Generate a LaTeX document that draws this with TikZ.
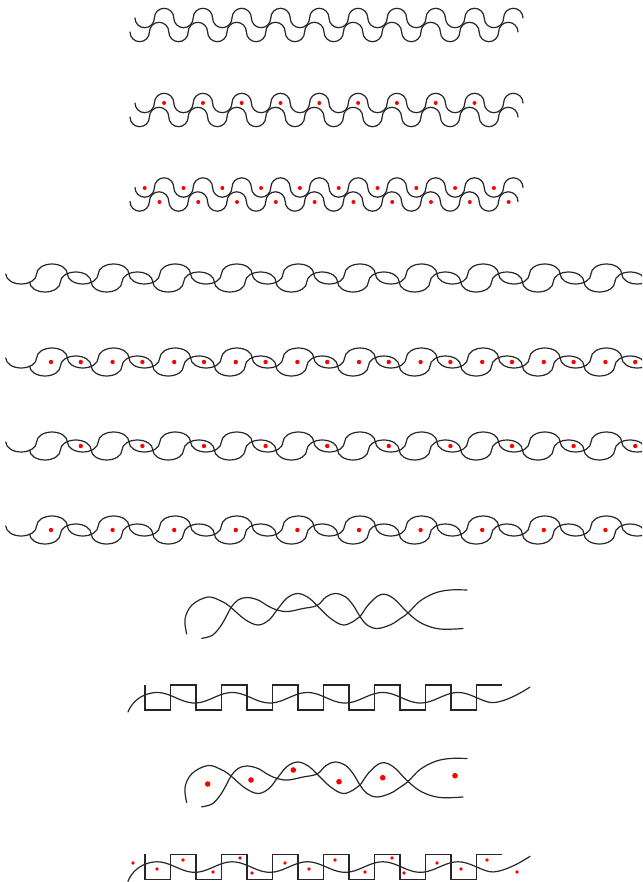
\documentclass[tikz,border=0pt]{standalone}
\begin{document}
\begin{tikzpicture}[x=1pt,y=-1pt,
  wave/.style={draw=black!85,line width=1.2pt,line cap=round},
  sqline/.style={draw=black!85,line width=1.05pt},
  reddot/.style={fill=red}]
\useasboundingbox (0,0) rectangle (642,882);
\clip (0,0) rectangle (642,882);
\newcommand\semiwave[3]{\draw[wave] (#1,#2) \foreach \i in {1,...,#3}{ arc[start angle=180,end angle=0,radius=9.7] arc[start angle=180,end angle=360,radius=9.7] };}
\newcommand\ellwave[3]{\draw[wave] (#1,#2) \foreach \i in {1,...,#3}{ arc[start angle=180,end angle=0,x radius=15.4,y radius=10] arc[start angle=180,end angle=360,x radius=15.4,y radius=10] };}
\newcommand\drawstrands{%
 \draw[wave] plot[smooth,tension=0.6] coordinates {(186.7,634) (185,619) (192,605) (208,597) (222,601.5) (231,607.5) (245,619.5) (258,625) (269,620) (277,610) (287,598) (298,593.5) (309,598) (317,605.5) (330,618) (343,625) (354,621) (360,616.5) (369,604) (381,594.5) (393,598) (408,613) (422,623.5) (440,629) (463,628.5)};
 \draw[wave] plot[smooth,tension=0.6] coordinates {(201.7,638.3) (212,635.5) (220,627) (226,617) (231,607.5) (238,600) (247,597.5) (258,600) (268,606) (277,610) (288,611.5) (303,608.5) (317,605.5) (326,597) (335,593.5) (345,596.5) (353,605) (360,616.5) (367,625) (377,628.5) (390,625) (399,619.5) (408,613) (420,601) (435,593) (450,590) (467,590)};}
\newcommand\drawsquare{%
 \draw[sqline] (145,685) \foreach \k in {0,...,6}{ -- ++(0,25) -- ++(25.5,0) -- ++(0,-25) -- ++(25.5,0) };
 \draw[wave] (128,712) .. controls (131,704) and (138,697.6) .. (145,694.95) -- plot[domain=145:490,samples=140] (\x,{697.75-5.25*cos((\x-157)*4.784)}) .. controls (498,704) and (515,697) .. (530,687);}
% rows 1-3
\semiwave{135}{18}{10}
\semiwave{130}{32}{10}
\semiwave{135}{103}{10}
\semiwave{130}{117}{10}
\foreach \k in {0,...,8} \fill[reddot] ({164.1+38.8*\k},103) circle[radius=2];
\semiwave{135}{187.5}{10}
\semiwave{130}{201.5}{10}
\foreach \k in {0,...,9} {\fill[reddot] ({144.7+38.8*\k},188) circle[radius=2];
  \fill[reddot] ({159.4+38.8*\k},202) circle[radius=2];}
% rows 4-7
\foreach \dy in {0,84,168,252} {
  \ellwave{5.8}{274+\dy}{11}
  \ellwave{29.6}{282+\dy}{11}
}
\foreach \k in {0,...,9} {
  \fill[reddot] ({51+61.6*\k},362) circle[radius=2.2];
  \fill[reddot] ({80.8+61.6*\k},362) circle[radius=2.2];
  \fill[reddot] ({80.8+61.6*\k},446) circle[radius=2.2];
  \fill[reddot] ({51+61.6*\k},530) circle[radius=2.2];
}
% rows 8 and 10
\drawstrands
\begin{scope}[shift={(0,168.5)}]
\drawstrands
\end{scope}
\foreach \px/\py in {207.7/784,251/780,293.3/770,339/781.7,382.7/777.7,455/775.7}
  \fill[reddot] (\px,\py) circle[radius=2.8];
% rows 9 and 11
\drawsquare
\begin{scope}[shift={(0,169.3)}]
\drawsquare
\end{scope}
\foreach \px/\py in {133/863,157/869,183/860,213/872,240/858,252/873,285/863,309/869,335/860,365/872,392/858,404/873,437/863,461/869,487/860,517/872}
  \fill[reddot] (\px,\py) circle[radius=1.8];
\end{tikzpicture}
\end{document}
